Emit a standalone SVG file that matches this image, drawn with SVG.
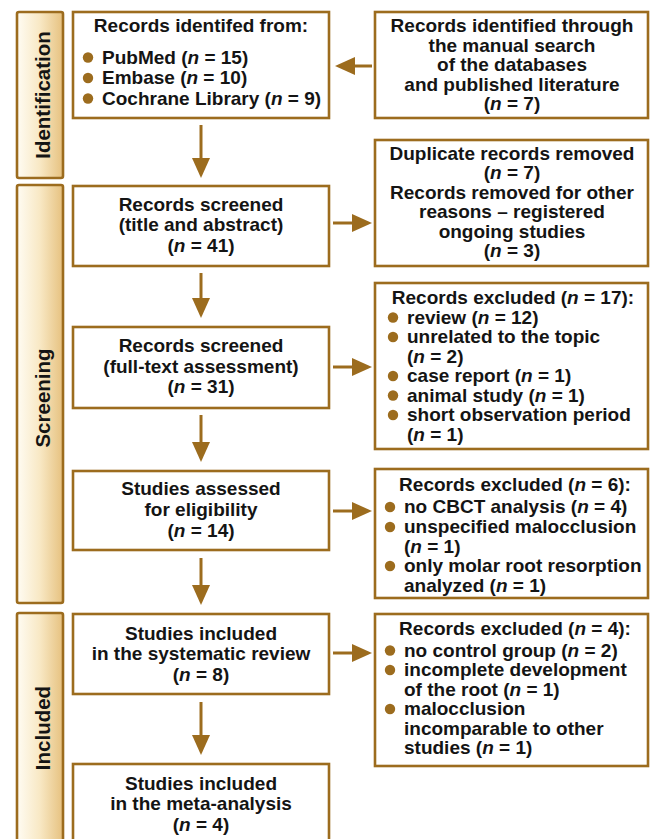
<svg xmlns="http://www.w3.org/2000/svg" width="651" height="839" viewBox="0 0 651 839">
<defs>
<linearGradient id="sideGrad" x1="0" y1="0" x2="1" y2="0">
<stop offset="0" stop-color="#fffcf3"/>
<stop offset="0.5" stop-color="#f8e8c4"/>
<stop offset="1" stop-color="#e6c17f"/>
</linearGradient>
<marker id="arrow" viewBox="0 0 20 18" refX="10" refY="9" markerWidth="20" markerHeight="18" markerUnits="userSpaceOnUse" orient="auto">
<path d="M0,0 L20,9 L0,18 Z" fill="#9c6c1e"/>
</marker>
<style>
.box{fill:#ffffff;stroke:#9c6c1e;stroke-width:2.6}
.side{fill:url(#sideGrad);stroke:#9c6c1e;stroke-width:2.6}
.t{font-family:"Liberation Sans",Arial,sans-serif;font-weight:bold;font-size:19px;fill:#141414}
.c{text-anchor:middle}
.side-t{font-family:"Liberation Sans",Arial,sans-serif;font-weight:bold;font-size:20.5px;fill:#141414;text-anchor:middle}
.i{font-style:italic}
.dot{fill:#9c6c1e}
.conn{stroke:#9c6c1e;stroke-width:3;fill:none;marker-end:url(#arrow)}
</style>
</defs>

<g id="side-identification">
<rect class="side" x="17" y="12" width="46" height="166" rx="2"/>
<text class="side-t" transform="translate(50,95) rotate(-90)">Identification</text>
</g>
<g id="side-screening">
<rect class="side" x="17" y="185" width="46" height="418" rx="2"/>
<text class="side-t" transform="translate(50,398) rotate(-90)">Screening</text>
</g>
<g id="side-included">
<rect class="side" x="17" y="613" width="46" height="240" rx="2"/>
<text class="side-t" transform="translate(50,728) rotate(-90)">Included</text>
</g>

<g id="records-identified">
<rect class="box" x="73" y="12" width="256" height="106"/>
<text class="t c" x="201" y="32">Records identifed from:</text>
<circle class="dot" cx="88" cy="57.5" r="5.2"/>
<text class="t" x="102" y="63.5">PubMed (<tspan class="i">n</tspan> = 15)</text>
<circle class="dot" cx="88" cy="78" r="5.2"/>
<text class="t" x="102" y="84">Embase (<tspan class="i">n</tspan> = 10)</text>
<circle class="dot" cx="88" cy="98.5" r="5.2"/>
<text class="t" x="102" y="104.5">Cochrane Library (<tspan class="i">n</tspan> = 9)</text>
</g>

<g id="manual-search">
<rect class="box" x="375" y="12" width="273" height="106"/>
<text class="t c" x="512" y="32">Records identified through</text>
<text class="t c" x="512" y="51.5">the manual search</text>
<text class="t c" x="512" y="71">of the databases</text>
<text class="t c" x="512" y="90.5">and published literature</text>
<text class="t c" x="512" y="110">(<tspan class="i">n</tspan> = 7)</text>
</g>

<g id="screened-title">
<rect class="box" x="73" y="186" width="256" height="80"/>
<text class="t c" x="201" y="210.5">Records screened</text>
<text class="t c" x="201" y="231">(title and abstract)</text>
<text class="t c" x="201" y="251.5">(<tspan class="i">n</tspan> = 41)</text>
</g>

<g id="duplicates-removed">
<rect class="box" x="375" y="140" width="273" height="126"/>
<text class="t c" x="512" y="160">Duplicate records removed</text>
<text class="t c" x="512" y="179.4">(<tspan class="i">n</tspan> = 7)</text>
<text class="t c" x="512" y="198.8">Records removed for other</text>
<text class="t c" x="512" y="218.2">reasons – registered</text>
<text class="t c" x="512" y="237.6">ongoing studies</text>
<text class="t c" x="512" y="257">(<tspan class="i">n</tspan> = 3)</text>
</g>

<g id="screened-fulltext">
<rect class="box" x="73" y="327" width="256" height="81"/>
<text class="t c" x="201" y="351.5">Records screened</text>
<text class="t c" x="201" y="372.5">(full-text assessment)</text>
<text class="t c" x="201" y="393">(<tspan class="i">n</tspan> = 31)</text>
</g>

<g id="excluded-17">
<rect class="box" x="375" y="283" width="273" height="166"/>
<text class="t c" x="513" y="304">Records excluded (<tspan class="i">n</tspan> = 17):</text>
<circle class="dot" cx="393" cy="317.5" r="5.2"/>
<text class="t" x="407" y="323.5">review (<tspan class="i">n</tspan> = 12)</text>
<circle class="dot" cx="393" cy="337" r="5.2"/>
<text class="t" x="407" y="343">unrelated to the topic</text>
<text class="t" x="407" y="362.5">(<tspan class="i">n</tspan> = 2)</text>
<circle class="dot" cx="393" cy="376" r="5.2"/>
<text class="t" x="407" y="382">case report (<tspan class="i">n</tspan> = 1)</text>
<circle class="dot" cx="393" cy="395.5" r="5.2"/>
<text class="t" x="407" y="401.5">animal study (<tspan class="i">n</tspan> = 1)</text>
<circle class="dot" cx="393" cy="415" r="5.2"/>
<text class="t" x="407" y="421">short observation period</text>
<text class="t" x="407" y="440.5">(<tspan class="i">n</tspan> = 1)</text>
</g>

<g id="eligibility">
<rect class="box" x="73" y="471" width="256" height="79"/>
<text class="t c" x="201" y="495">Studies assessed</text>
<text class="t c" x="201" y="516">for eligibility</text>
<text class="t c" x="201" y="537">(<tspan class="i">n</tspan> = 14)</text>
</g>

<g id="excluded-6">
<rect class="box" x="375" y="469" width="273" height="129"/>
<text class="t c" x="515" y="490.7">Records excluded (<tspan class="i">n</tspan> = 6):</text>
<circle class="dot" cx="390" cy="507" r="5.2"/>
<text class="t" x="404" y="513">no CBCT analysis (<tspan class="i">n</tspan> = 4)</text>
<circle class="dot" cx="390" cy="527" r="5.2"/>
<text class="t" x="404" y="533">unspecified malocclusion</text>
<text class="t" x="404" y="552.5">(<tspan class="i">n</tspan> = 1)</text>
<circle class="dot" cx="390" cy="566" r="5.2"/>
<text class="t" x="404" y="572">only molar root resorption</text>
<text class="t" x="404" y="591.5">analyzed (<tspan class="i">n</tspan> = 1)</text>
</g>

<g id="systematic-review">
<rect class="box" x="73" y="614" width="256" height="80"/>
<text class="t c" x="201" y="639.5">Studies included</text>
<text class="t c" x="201" y="660">in the systematic review</text>
<text class="t c" x="201" y="680.5">(<tspan class="i">n</tspan> = 8)</text>
</g>

<g id="excluded-4">
<rect class="box" x="375" y="614" width="273" height="152"/>
<text class="t c" x="515" y="635">Records excluded (<tspan class="i">n</tspan> = 4):</text>
<circle class="dot" cx="390" cy="650.5" r="5.2"/>
<text class="t" x="404" y="656.5">no control group (<tspan class="i">n</tspan> = 2)</text>
<circle class="dot" cx="390" cy="670" r="5.2"/>
<text class="t" x="404" y="676">incomplete development</text>
<text class="t" x="404" y="695.5">of the root (<tspan class="i">n</tspan> = 1)</text>
<circle class="dot" cx="390" cy="709" r="5.2"/>
<text class="t" x="404" y="715">malocclusion</text>
<text class="t" x="404" y="734.5">incomparable to other</text>
<text class="t" x="404" y="754">studies (<tspan class="i">n</tspan> = 1)</text>
</g>

<g id="meta-analysis">
<rect class="box" x="73" y="764" width="256" height="90"/>
<text class="t c" x="201" y="789.5">Studies included</text>
<text class="t c" x="201" y="810">in the meta-analysis</text>
<text class="t c" x="201" y="830.5">(<tspan class="i">n</tspan> = 4)</text>
</g>

<g id="connectors">
<line class="conn" x1="372" y1="66" x2="345" y2="66"/>
<line class="conn" x1="201" y1="125" x2="201" y2="168"/>
<line class="conn" x1="333" y1="223" x2="362" y2="223"/>
<line class="conn" x1="201" y1="273" x2="201" y2="308"/>
<line class="conn" x1="333" y1="367" x2="362" y2="367"/>
<line class="conn" x1="201" y1="415" x2="201" y2="452"/>
<line class="conn" x1="333" y1="511" x2="362" y2="511"/>
<line class="conn" x1="201" y1="558" x2="201" y2="595"/>
<line class="conn" x1="333" y1="653" x2="362" y2="653"/>
<line class="conn" x1="201" y1="702" x2="201" y2="745"/>
</g>
</svg>
